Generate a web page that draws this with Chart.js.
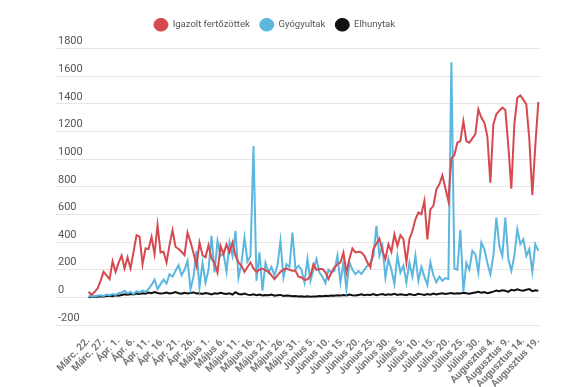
<!DOCTYPE html>
<html>
<head>
<meta charset="utf-8">
<script src="https://cdn.jsdelivr.net/npm/chart.js@4/dist/chart.umd.min.js"></script>
<style>
    html, body { margin: 0; padding: 0; background: #fff; }
    #wrap { width: 575px; height: 387px; }
</style>
</head>
<body>
<div id="wrap"><canvas id="covidChart" width="575" height="387"></canvas></div>
<script>
// napi adatok, 0. nap = Márc. 22.
const tickLabels = [
    'Márc. 22.', 'Márc. 27.', 'Ápr. 1.', 'Ápr. 6.', 'Ápr. 11.', 'Ápr. 16.', 'Ápr. 21.', 'Ápr. 26.',
    'Május 1.', 'Május 6.', 'Május 11.', 'Május 16.', 'Május 21.', 'Május 26.', 'Május 31.',
    'Június 5.', 'Június 10.', 'Június 15.', 'Június 20.', 'Június 25.', 'Június 30.',
    'Július 5.', 'Július 10.', 'Július 15.', 'Július 20.', 'Július 25.', 'Július 30.',
    'Augusztus 4.', 'Augusztus 9.', 'Augusztus 14.', 'Augusztus 19.'
];

const confirmed = [
    41, 17, 40, 65, 120, 185, 160, 132, 260, 185,
    250, 303, 209, 289, 209, 330, 450, 440, 240, 354,
    350, 438, 313, 522, 325, 330, 253, 380, 486, 366,
    350, 330, 305, 469, 400, 320, 229, 397, 305, 290,
    378, 282, 250, 180, 373, 313, 383, 325, 397, 300,
    253, 229, 185, 220, 253, 210, 185, 200, 209, 195,
    185, 160, 132, 160, 185, 200, 209, 200, 192, 192,
    150, 144, 127, 130, 157, 240, 200, 205, 205, 182,
    132, 180, 217, 240, 253, 325, 180, 280, 354, 325,
    330, 325, 300, 253, 217, 349, 390, 426, 337, 277,
    385, 330, 457, 373, 450, 421, 253, 421, 480, 565,
    614, 602, 698, 420, 637, 662, 782, 818, 883, 790,
    698, 1004, 1030, 1119, 1131, 1275, 1131, 1119, 1150, 1180,
    1360, 1300, 1264, 1167, 830, 1251, 1324, 1350, 1372, 1355,
    1095, 787, 1251, 1444, 1461, 1430, 1396, 1143, 739, 1100,
    1413
];

const recovered = [
    10, 5, 8, 12, 15, 10, 20, 15, 25, 18,
    30, 35, 48, 30, 40, 25, 45, 35, 50, 40,
    60, 90, 128, 60, 96, 130, 100, 168, 150, 193,
    233, 161, 200, 265, 60, 150, 337, 72, 250, 108,
    200, 445, 180, 409, 300, 320, 185, 397, 300, 481,
    144, 250, 433, 260, 300, 1095, 120, 325, 48, 250,
    180, 220, 160, 230, 409, 144, 240, 220, 469, 204,
    229, 200, 108, 277, 120, 200, 277, 180, 150, 103,
    200, 180, 193, 301, 108, 253, 60, 253, 200, 168,
    190, 170, 200, 230, 250, 300, 518, 301, 373, 144,
    277, 200, 96, 301, 180, 230, 108, 250, 150, 301,
    120, 220, 150, 90, 253, 160, 110, 150, 120, 140,
    132, 1700, 209, 200, 489, 41, 250, 200, 337, 313,
    180, 397, 350, 250, 168, 300, 578, 373, 300, 578,
    277, 193, 300, 493, 385, 420, 301, 350, 185, 385,
    337
];

const deaths = [
    2, 3, 5, 4, 8, 6, 10, 12, 9, 15,
    12, 18, 22, 20, 25, 22, 28, 24, 30, 26,
    35, 30, 38, 32, 28, 30, 35, 28, 32, 38,
    30, 26, 34, 28, 32, 36, 28, 30, 25, 32,
    28, 22, 30, 26, 34, 28, 24, 30, 20, 38,
    25, 22, 28, 20, 18, 22, 16, 20, 14, 18,
    16, 20, 12, 15, 18, 10, 14, 12, 8, 10,
    6, 9, 5, 8, 4, 7, 6, 10, 8, 12,
    10, 14, 12, 16, 13, 18, 14, 20, 16, 14,
    18, 22, 16, 20, 18, 24, 16, 20, 24, 18,
    22, 20, 26, 18, 22, 20, 16, 24, 20, 18,
    26, 22, 18, 24, 20, 28, 22, 26, 30, 24,
    28, 32, 26, 30, 28, 34, 30, 26, 32, 36,
    40, 34, 38, 30, 36, 42, 50, 45, 52, 48,
    40, 55, 50, 58, 52, 48, 55, 60, 45, 52,
    48
];

const yTicks = [-200, 0, 200, 400, 600, 800, 1000, 1200, 1400, 1600, 1800];

function toPoints(values) {
    return values.map((v, i) => ({ x: i, y: v }));
}

// a jelmagyarazat kicsit balra es feljebb kerul
const legendShift = {
    id: 'legendShift',
    afterLayout(chart) {
        const legend = chart.legend;
        if (!legend) {
            return;
        }
        legend.left -= 20;
        legend.right -= 20;
        legend.top -= 9;
        legend.bottom -= 9;
    },
};

function createCovidChart() {
    const canvas = document.getElementById('covidChart');
    if (!canvas || typeof Chart === 'undefined') {
        return;
    }

    const text = '#555';
    const line = '#e6e6e6';

    new Chart(canvas, {
        type: 'line',
        data: {
            datasets: [
                {
                    label: 'Igazolt fertőzöttek',
                    data: toPoints(confirmed),
                    borderColor: '#d6494f',
                    backgroundColor: '#d6494f',
                },
                {
                    label: 'Gyógyultak',
                    data: toPoints(recovered),
                    borderColor: '#5cb7de',
                    backgroundColor: '#5cb7de',
                },
                {
                    label: 'Elhunytak',
                    data: toPoints(deaths),
                    borderColor: '#111',
                    backgroundColor: '#111',
                },
            ],
        },
        plugins: [legendShift],
        options: {
            responsive: false,
            animation: false,
            layout: {
                padding: { left: 49, right: 35, top: 19, bottom: -5 },
            },
            elements: {
                line: { borderWidth: 2, tension: 0 },
                point: { radius: 0 },
            },
            scales: {
                x: {
                    type: 'linear',
                    min: -11.2,
                    max: 150.56,
                    afterBuildTicks: (axis) => {
                        axis.ticks = tickLabels.map((_, k) => ({ value: k * 5 }));
                    },
                    grid: { display: false },
                    border: { display: false },
                    ticks: {
                        autoSkip: false,
                        minRotation: 46,
                        maxRotation: 46,
                        padding: 2,
                        color: '#777',
                        font: { family: 'Roboto', size: 10, weight: 'bold' },
                        callback: (value) => tickLabels[Math.round(value / 5)],
                    },
                },
                y: {
                    min: -200,
                    max: 1800,
                    afterBuildTicks: (axis) => {
                        axis.ticks = yTicks.map((v) => ({ value: v }));
                    },
                    grid: { color: line, drawTicks: false },
                    border: { display: false },
                    ticks: {
                        mirror: true,
                        padding: 3,
                        labelOffset: -7,
                        color: text,
                        font: { family: 'Roboto', size: 11 },
                        callback: (value) => String(value),
                    },
                },
            },
            plugins: {
                tooltip: { enabled: false },
                legend: {
                    labels: {
                        usePointStyle: true,
                        pointStyle: 'circle',
                        boxHeight: 9,
                        pointStyleWidth: 14,
                        padding: 10,
                        color: text,
                        font: { family: 'Roboto', size: 9.5 },
                    },
                },
            },
        },
    });
}

document.addEventListener('DOMContentLoaded', () => {
    createCovidChart();
});
</script>
</body>
</html>
